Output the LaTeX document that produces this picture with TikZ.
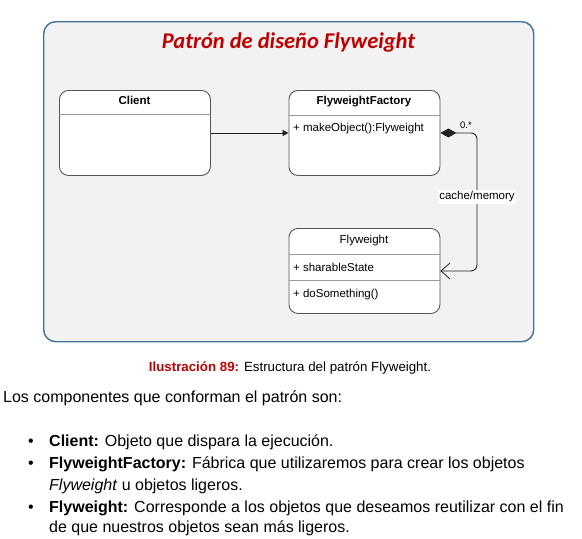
\documentclass[tikz,border=0pt]{standalone}
\usepackage{fontspec}
\setmainfont{Liberation Sans}
\newfontfamily\titlefont{Carlito}
\usetikzlibrary{arrows.meta}
\definecolor{framefill}{HTML}{F2F2F2}
\definecolor{framedraw}{HTML}{41719C}
\definecolor{titlered}{HTML}{C00000}
\definecolor{boxdraw}{HTML}{555555}
\definecolor{sepgray}{HTML}{999999}
\definecolor{linedark}{HTML}{222222}
\tikzset{
  umlbox/.style={draw=boxdraw, fill=white, line width=0.9pt, rounded corners=9pt,
    minimum width=151pt, minimum height=85pt, inner sep=0pt, anchor=north west},
  sepline/.style={draw=sepgray, line width=0.7pt},
  boxtxt/.style={inner sep=0pt, font=\fontsize{11.5}{13}\selectfont},
  bodytxt/.style={inner sep=0pt, anchor=base west, font=\fontsize{16}{18}\selectfont},
  conn/.style={draw=linedark, line width=0.9pt},
}
\begin{document}
\begin{tikzpicture}[x=1pt,y=-1pt]
\useasboundingbox (0,0) rectangle (582,539);
% frame
\node[draw=framedraw, fill=framefill, line width=1.4pt, rounded corners=12pt,
  minimum width=490pt, minimum height=320pt, anchor=north west, inner sep=0pt] (frame) at (43,21) {};
\node[anchor=base, inner sep=0pt, text=titlered, font=\titlefont\fontsize{22.5}{26}\selectfont\bfseries\itshape] (title) at (288.5,48) {Patrón de diseño Flyweight};
% Client
\node[umlbox] (client) at (59,90) {};
\draw[sepline] ([yshift=-24pt]client.north west) -- ([yshift=-24pt]client.north east);
\node[boxtxt, anchor=base, font=\fontsize{11.5}{13}\selectfont\bfseries] (clientname) at (134.5,104) {Client};
% FlyweightFactory
\node[umlbox] (ff) at (288.5,90) {};
\draw[sepline] ([yshift=-25pt]ff.north west) -- ([yshift=-25pt]ff.north east);
\node[boxtxt, anchor=base, font=\fontsize{11.5}{13}\selectfont\bfseries] (ffname) at (364,104) {FlyweightFactory};
\node[boxtxt, anchor=base west] (ffop) at (293,131) {+ makeObject():Flyweight};
% Flyweight
\node[umlbox] (fw) at (288.5,228) {};
\draw[sepline] ([yshift=-26pt]fw.north west) -- ([yshift=-26pt]fw.north east);
\draw[sepline] ([yshift=-52pt]fw.north west) -- ([yshift=-52pt]fw.north east);
\node[boxtxt, anchor=base] (fwname) at (364,243) {Flyweight};
\node[boxtxt, anchor=base west] (fwattr) at (293,271) {+ sharableState};
\node[boxtxt, anchor=base west] (fwop) at (293,297) {+ doSomething()};
% connectors
\draw[conn, -{Triangle[length=6pt,width=6pt]}] (client.east) -- (ff.west);
\coordinate (cm) at (477,197);
\draw[conn, rounded corners=6pt, {Diamond[length=16pt,width=9pt]}-{Straight Barb[length=9pt,width=16pt,line width=0.8pt]}]
  (ff.east) -| (cm) |- (fw.east);
\node[fill=white, inner xsep=1pt, inner ysep=1.5pt, font=\fontsize{11.5}{13}\selectfont] (cmlabel) at (cm) {cache/memory};
\node[inner sep=0pt, anchor=base west, font=\fontsize{9.5}{11}\selectfont] (mult) at (460,128) {0.*};
% caption
\node[inner sep=0pt, anchor=base, font=\fontsize{13.3}{15}\selectfont] (caption) at (290,371)
  {\textcolor{titlered}{\textbf{Ilustración 89:}} Estructura del patrón Flyweight.};
% body
\node[bodytxt] (intro) at (3,402) {Los componentes que conforman el patrón son:};
\node[bodytxt, anchor=base] (b1) at (31,446) {•};
\node[bodytxt, anchor=base] (b2) at (31,468) {•};
\node[bodytxt, anchor=base] (b3) at (31,512) {•};
\node[bodytxt] (l1) at (49,446) {\textbf{Client:} Objeto que dispara la ejecución.};
\node[bodytxt] (l2) at (49,468) {\textbf{FlyweightFactory:} Fábrica que utilizaremos para crear los objetos};
\node[bodytxt] (l3) at (49,490) {\textit{Flyweight} u objetos ligeros.};
\node[bodytxt] (l4) at (49,512) {\textbf{Flyweight:} Corresponde a los objetos que deseamos reutilizar con el fin};
\node[bodytxt] (l5) at (49,532) {de que nuestros objetos sean más ligeros.};
\end{tikzpicture}
\end{document}
